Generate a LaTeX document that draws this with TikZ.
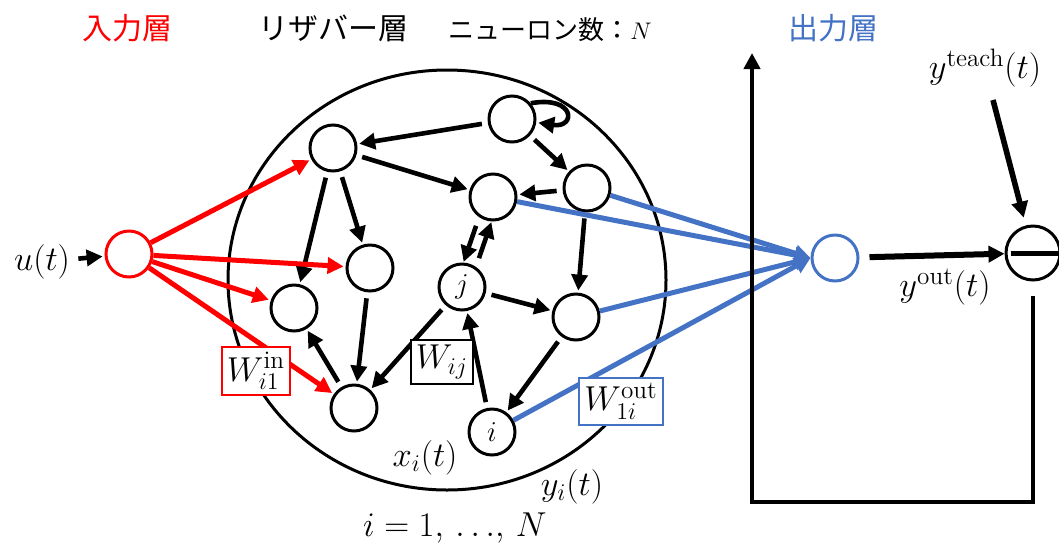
\documentclass[tikz,border=0pt]{standalone}
\usepackage{fontspec}
\usepackage{amsmath}
\usepackage{tikz}
\usetikzlibrary{arrows.meta,positioning,calc}
\newfontfamily\jpfont{Noto Sans CJK JP}
\newcommand{\mathsz}{\fontsize{18}{21}\selectfont}
\definecolor{inred}{RGB}{255,0,0}
\definecolor{outblue}{RGB}{68,114,196}
\tikzset{
  neuron/.style={circle,draw=black,line width=1.5pt,fill=white,minimum size=23pt,
                 inner sep=0pt,font=\fontsize{15}{17}\selectfont},
  inneuron/.style={neuron,draw=inred},
  outneuron/.style={neuron,draw=outblue},
  link/.style={-{Triangle[length=8pt,width=8pt]},line width=2.3pt,
               shorten <=3pt,shorten >=1pt},
  inlink/.style={link,draw=inred,line width=2.5pt,shorten <=0pt},
  outlink/.style={link,draw=outblue,line width=2.5pt,shorten <=0pt,shorten >=0pt},
  fback/.style={-{Triangle[length=8pt,width=8pt]},line width=2pt},
  wbox/.style={draw,fill=white,line width=1pt,inner sep=2.5pt,font=\mathsz},
  mlbl/.style={font=\mathsz,inner sep=1pt},
  ttl/.style={font=\jpfont\fontsize{15}{18}\selectfont},
}

\begin{document}
\begin{tikzpicture}[x=0.5pt,y=-0.5pt]
  \useasboundingbox (0,0) rectangle (1059,542);

  % ---------------- titles ----------------
  \node[ttl,text=inred] (tin) at (127,28) {入力層};
  \node[ttl] (tres) at (333,28) {リザバー層};
  \node[font=\jpfont\fontsize{13}{15}\selectfont] (tnum) at (550,30) {ニューロン数：$N$};
  \node[ttl,text=outblue] (tout) at (833,28) {出力層};

  % ---------------- reservoir ----------------
  \draw[line width=1.5pt] (447,280) ellipse [x radius=219,y radius=210];

  \node[neuron] (A) at (333,148) {};
  \node[neuron] (B) at (512,119) {};
  \node[neuron] (C) at (493,197) {};
  \node[neuron] (D) at (587,188) {};
  \node[neuron] (E) at (370,268) {};
  \node[neuron] (F) at (294,308) {};
  \node[neuron] (j) at (462,287) {$j$};
  \node[neuron] (G) at (576,317) {};
  \node[neuron] (H) at (354,408) {};
  \node[neuron] (i) at (492,432) {$i$};

  \draw[link] (B) -- (A);
  \draw[link] (B) -- (D);
  \draw[link,shorten <=0pt] (B.40) .. controls +(45,-8) and +(40,6) .. (B.-8);
  \draw[link] (A) -- (C);
  \draw[link] (D) -- (C);
  \draw[link] (A) -- (F);
  \draw[link] (A) -- (E);
  \draw[link] (D) -- (G);
  \draw[link,transform canvas={xshift=-3.5pt}] (C) -- (j);
  \draw[link,transform canvas={xshift=3.5pt}] (j) -- (C);
  \draw[link] (j) -- (G);
  \draw[link] (j) -- (H);
  \draw[link] (E) -- (H);
  \draw[link] (H) -- (F);
  \draw[link] (i) -- (j);
  \draw[link] (G) -- (i);

  % ---------------- input ----------------
  \node[mlbl] (u) at (42,262) {$u(t)$};
  \node[inneuron] (in) at (129,254) {};
  \draw[link] (u) -- (in);
  \foreach \t in {A,E,F,H}
    \draw[inlink] (in) -- (\t);

  % ---------------- output ----------------
  \node[outneuron] (out) at (835,258) {};
  \foreach \s in {D,C,G,i}
    \draw[outlink] (\s) -- (out.west);

  \node[neuron,minimum size=27pt] (minus) at (1033,253) {};
  \draw[line width=2.5pt] ([xshift=3pt]minus.west) -- ([xshift=-1pt]minus.east);
  \draw[link,line width=3pt,shorten <=5pt,shorten >=0pt] (out) -- (minus);
  \node[mlbl] (yout) at (945,287) {$y^{\text{out}}(t)$};

  \node[mlbl] (yteach) at (985,68) {$y^{\text{teach}}(t)$};
  \coordinate (tch) at (993,100);
  \draw[link,line width=2.8pt,shorten <=0pt,shorten >=4pt] (tch) -- (minus);

  % feedback loop
  \coordinate (fbs) at ($(minus.south)+(0,14)$);
  \coordinate (fbl) at (752,502);
  \coordinate (fbt) at (752,53);
  \draw[fback] (fbs) -- (minus |- fbl) -- (fbl) -- (fbt);

  % ---------------- weights & labels ----------------
  \node[wbox,draw=inred] (win) at (256,371) {$W_{i1}^{\text{in}}$};
  \node[wbox] (wij) at (442,362) {$W_{ij}$};
  \node[wbox,draw=outblue] (wout) at (621,401) {$W_{1i}^{\text{out}}$};

  \node[mlbl] (xi) at (425,458) {$x_i(t)$};
  \node[mlbl] (yi) at (572,487) {$y_i(t)$};
  \node[mlbl,font=\fontsize{16}{19}\selectfont] (range) at (455,528) {$i=1,\,{\ldots},\,N$};
\end{tikzpicture}
\end{document}
